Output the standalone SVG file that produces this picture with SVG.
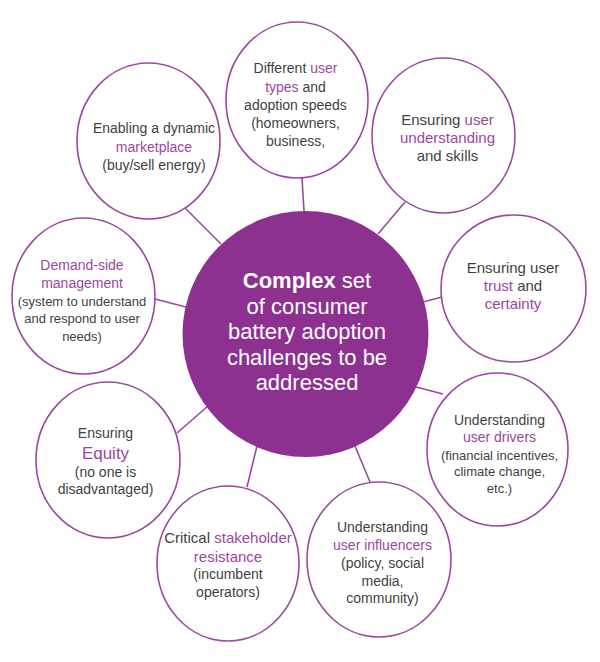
<svg xmlns="http://www.w3.org/2000/svg" width="600" height="662" viewBox="0 0 600 662">
<style>
.node{fill:#ffffff;stroke:#9a48a0;stroke-width:1.6}
.conn line{stroke:#9a48a0;stroke-width:1.6}
text{font-family:"Liberation Sans",Arial,sans-serif;fill:#3f3f3f;text-anchor:middle}
.p{fill:#9b47a1}
.s14{font-size:14px}
.s15{font-size:15px}
.s13{font-size:13px}
.c{font-size:22px;fill:#ffffff}
</style>
<rect width="600" height="662" fill="#ffffff"/>
<g id="connectors" class="conn">
<line x1="185" y1="208" x2="221" y2="244"/>
<line x1="302" y1="178" x2="304" y2="211"/>
<line x1="405" y1="202" x2="378" y2="234"/>
<line x1="423" y1="302" x2="442" y2="297"/>
<line x1="416" y1="387" x2="443" y2="394"/>
<line x1="355" y1="446" x2="370" y2="482"/>
<line x1="257" y1="446" x2="247" y2="487"/>
<line x1="208" y1="406" x2="177" y2="433"/>
<line x1="155" y1="299" x2="186" y2="307"/>
</g>
<g id="center">
<circle cx="305.5" cy="334" r="123" fill="#8d3190"/>
<text class="c" x="307" y="288"><tspan font-weight="bold">Complex</tspan> set</text>
<text class="c" x="307" y="313.5">of consumer</text>
<text class="c" x="307" y="339">battery adoption</text>
<text class="c" x="307" y="364.5">challenges to be</text>
<text class="c" x="307" y="390">addressed</text>
</g>
<g id="n1">
<ellipse class="node" cx="148.5" cy="141" rx="71.5" ry="78"/>
<text class="s14" x="154" y="133">Enabling a dynamic</text>
<text class="s14 p" x="154" y="151.5">marketplace</text>
<text class="s14" x="154" y="170">(buy/sell energy)</text>
</g>
<g id="n2">
<ellipse class="node" cx="297" cy="100" rx="71" ry="78"/>
<text class="s14" x="295.5" y="73">Different <tspan class="p">user</tspan></text>
<text class="s14" x="295.5" y="91.5"><tspan class="p">types</tspan> and</text>
<text class="s14" x="295.5" y="109.5">adoption speeds</text>
<text class="s14" x="295.5" y="128">(homeowners,</text>
<text class="s14" x="295.5" y="146">business,</text>
</g>
<g id="n3">
<ellipse class="node" cx="443.5" cy="135.5" rx="71.5" ry="77.5"/>
<text class="s15" x="447.5" y="124.5">Ensuring <tspan class="p">user</tspan></text>
<text class="s15 p" x="447.5" y="142.5">understanding</text>
<text class="s15" x="447.5" y="160.5">and skills</text>
</g>
<g id="n4">
<ellipse class="node" cx="513.5" cy="288.5" rx="72.5" ry="73.5"/>
<text class="s15" x="513" y="272.5">Ensuring user</text>
<text class="s15" x="513" y="290.5"><tspan class="p">trust</tspan> and</text>
<text class="s15 p" x="513" y="308.5">certainty</text>
</g>
<g id="n5">
<ellipse class="node" cx="497.5" cy="449.5" rx="70.5" ry="76.5"/>
<text class="s14" x="499.5" y="425">Understanding</text>
<text class="s14 p" x="499.5" y="442">user drivers</text>
<text class="s13" x="499.5" y="459.5">(financial incentives,</text>
<text class="s13" x="499.5" y="476">climate change,</text>
<text class="s13" x="499.5" y="492.5">etc.)</text>
</g>
<g id="n6">
<ellipse class="node" cx="379" cy="559.5" rx="72" ry="77.5"/>
<text class="s14" x="382.5" y="532">Understanding</text>
<text class="s14 p" x="382.5" y="550">user influencers</text>
<text class="s14" x="382.5" y="568">(policy, social</text>
<text class="s14" x="382.5" y="586">media,</text>
<text class="s14" x="382.5" y="603">community)</text>
</g>
<g id="n7">
<ellipse class="node" cx="228" cy="563.5" rx="71" ry="77.5"/>
<text class="s15" x="228" y="542.5">Critical <tspan class="p">stakeholder</tspan></text>
<text class="s15 p" x="228" y="561.5">resistance</text>
<text class="s14" x="228" y="579">(incumbent</text>
<text class="s14" x="228" y="597">operators)</text>
</g>
<g id="n8">
<ellipse class="node" cx="108" cy="460" rx="72" ry="78"/>
<text class="s14" x="105.5" y="438">Ensuring</text>
<text class="p" x="105.5" y="459" font-size="17">Equity</text>
<text class="s14" x="105.5" y="477">(no one is</text>
<text class="s14" x="105.5" y="494">disadvantaged)</text>
</g>
<g id="n9">
<ellipse class="node" cx="83.5" cy="296" rx="71.5" ry="78"/>
<text class="s14 p" x="82" y="270">Demand-side</text>
<text class="s14 p" x="82" y="287.5">management</text>
<text class="s13" x="82" y="305.5">(system to understand</text>
<text class="s13" x="82" y="322.5">and respond to user</text>
<text class="s13" x="82" y="341">needs)</text>
</g>
</svg>
